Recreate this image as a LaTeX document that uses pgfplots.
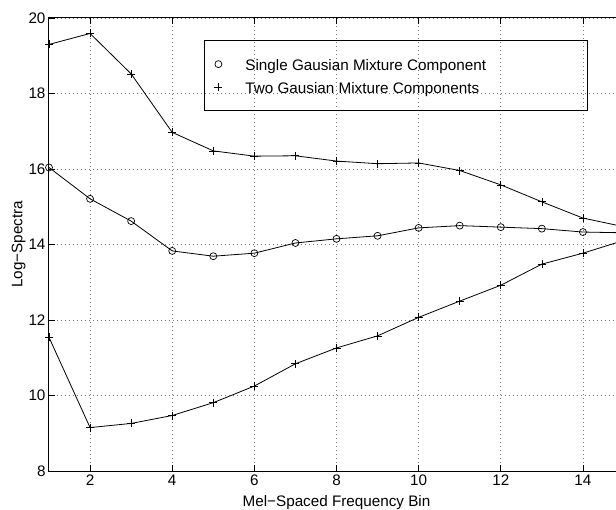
\documentclass[border=0pt]{standalone}
\usepackage{fontspec}
\setmainfont{Liberation Sans}
\usepackage{pgfplots}
\pgfplotsset{compat=1.18}
\newcommand{\ff}{\fontsize{15.3}{18}\selectfont}
\begin{document}
\begin{tikzpicture}
\begin{axis}[
  scale only axis, width=575bp, height=453bp,
  xmin=1, xmax=15, ymin=8, ymax=20,
  xtick={2,4,...,14}, ytick={8,10,...,20},
  tick align=inside, major tick length=6bp,
  grid=major, grid style={dash pattern=on 1bp off 3bp, black!55, line width=0.7bp},
  axis line style={line width=1bp},
  every tick/.style={black, line width=0.8bp},
  /pgf/number format/assume math mode=true,
  tick label style={font=\ff},
  label style={font=\ff},
  xlabel={Mel−Spaced Frequency Bin},
  ylabel={Log−Spectra},
  xlabel style={at={(axis description cs:0.5,-0.0788)}, anchor=base},
  ylabel style={at={(axis description cs:-0.0461,0.5)}, anchor=base},
  legend cell align=left,
  legend image code/.code={\path[draw=none,fill=none] (-7bp,0bp) -- (7bp,0bp); \draw[#1,only marks] plot coordinates {(0bp,0bp)};},
  legend style={at={(rel axis cs:0.2696,0.9514)}, anchor=north west, draw=black, line width=0.8bp, fill=none,
    inner xsep=7bp, inner ysep=15.7bp, row sep=7bp, font=\ff,
    /tikz/every odd column/.append style={column sep=20bp},
    nodes={inner sep=0pt, text height=14bp, text depth=2bp}},
]
\addplot[black, line width=0.8bp, mark=o, mark size=3.5bp, mark options={solid, line width=0.7bp}, forget plot] coordinates {
(1,16.04) (2,15.21) (3,14.62) (4,13.83) (5,13.69) (6,13.77) (7,14.04) (8,14.15) (9,14.23) (10,14.44) (11,14.50) (12,14.46) (13,14.42) (14,14.33) (15,14.31)};
\addplot[black, line width=0.8bp, mark=+, mark size=4bp, mark options={solid, line width=0.7bp}, forget plot] coordinates {
(1,19.30) (2,19.59) (3,18.52) (4,16.97) (5,16.48) (6,16.34) (7,16.35) (8,16.21) (9,16.14) (10,16.16) (11,15.96) (12,15.58) (13,15.13) (14,14.70) (15,14.47)};
\addplot[black, line width=0.8bp, mark=+, mark size=4bp, mark options={solid, line width=0.7bp}, forget plot] coordinates {
(1,11.54) (2,9.15) (3,9.26) (4,9.47) (5,9.81) (6,10.25) (7,10.84) (8,11.26) (9,11.58) (10,12.07) (11,12.50) (12,12.92) (13,13.48) (14,13.77) (15,14.11)};
\addlegendimage{only marks, mark=o, mark size=3.5bp, black, line width=0.7bp}
\addlegendentry{\makebox[335bp][l]{Single Gausian Mixture Component}}
\addlegendimage{only marks, mark=+, mark size=4bp, black, line width=0.7bp}
\addlegendentry{\makebox[335bp][l]{Two Gausian Mixture Components}}
\end{axis}
\pgfresetboundingbox
\path ([xshift=-49bp,yshift=-39bp]current axis.south west) rectangle ([xshift=567bp,yshift=18bp]current axis.north west);
\end{tikzpicture}
\end{document}
